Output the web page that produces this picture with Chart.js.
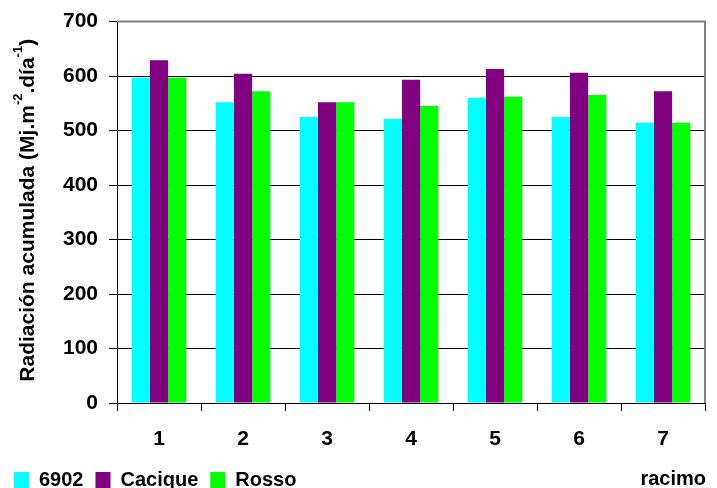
<!DOCTYPE html>
<html>
<head>
<meta charset="utf-8">
<script src="https://cdn.jsdelivr.net/npm/chart.js@4/dist/chart.umd.min.js"></script>
<style>
  body { margin: 0; background: #fff; }
  #wrap { width: 717px; height: 488px; }
</style>
</head>
<body>
<div id="wrap"><canvas id="chart1" width="717" height="488"></canvas></div>
<script>
// racimo (bunch number)
const racimos = ['1', '2', '3', '4', '5', '6', '7'];
// accumulated radiation per variety
const v6902 = [597, 552, 525, 521, 560, 525, 514];
const cacique = [629, 604, 552, 593, 613, 606, 572];
const rosso = [597, 572, 552, 545, 562, 565, 514];
const yTicks = [0, 100, 200, 300, 400, 500, 600, 700];

const fontFam = '"Liberation Sans", Arial, sans-serif';

// y title with superscripts + racimo label + plot frame
const extras = {
  id: 'extras',
  afterDraw(chart) {
    const ctx = chart.ctx;
    const area = chart.chartArea;
    ctx.save();
    // gray frame on top and right
    ctx.strokeStyle = '#808080';
    ctx.lineWidth = 2;
    ctx.beginPath();
    ctx.moveTo(area.left, area.top);
    ctx.lineTo(area.right, area.top);
    ctx.lineTo(area.right, area.bottom);
    ctx.stroke();

    // y axis title
    const parts = [
      ['Radiación acumulada (Mj.m', false],
      ['-2', true],
      ['.día', false],
      ['-1', true],
      [')', false]
    ];
    const big = 'bold 21px ' + fontFam;
    const small = 'bold 13px ' + fontFam;
    let total = 0;
    parts.forEach(p => { ctx.font = p[1] ? small : big; total += ctx.measureText(p[0]).width; });
    ctx.translate(28, (area.top + area.bottom) / 2 - 2);
    ctx.rotate(-Math.PI / 2);
    ctx.fillStyle = '#000';
    ctx.textBaseline = 'middle';
    let x = -total / 2;
    parts.forEach(p => {
      ctx.font = p[1] ? small : big;
      ctx.fillText(p[0], x, p[1] ? -10 : 0);
      x += ctx.measureText(p[0]).width;
    });
    ctx.restore();

    // x axis label, same line as the legend
    ctx.save();
    ctx.font = 'bold 20px ' + fontFam;
    ctx.fillStyle = '#000';
    ctx.textAlign = 'right';
    ctx.textBaseline = 'middle';
    const lg = chart.legend;
    ctx.fillText('racimo', 706, lg.top + lg.height / 2);
    ctx.restore();
  }
};

new Chart(document.getElementById('chart1').getContext('2d'), {
  type: 'bar',
  data: {
    labels: racimos,
    datasets: [
      { label: '6902', data: v6902, backgroundColor: '#00ffff' },
      { label: 'Cacique', data: cacique, backgroundColor: '#800080' },
      { label: 'Rosso', data: rosso, backgroundColor: '#00ff00' }
    ]
  },
  options: {
    responsive: false,
    animation: false,
    categoryPercentage: 0.65,
    barPercentage: 1.0,
    layout: { padding: { left: 2, right: 12, top: 10, bottom: -12 } },
    plugins: {
      tooltip: { enabled: false },
      legend: {
        position: 'bottom',
        align: 'start',
        labels: {
          boxWidth: 15,
          boxHeight: 16,
          padding: 12,
          color: '#000',
          font: { family: fontFam, size: 20, weight: 'bold' }
        }
      }
    },
    scales: {
      x: {
        afterFit(axis) { axis.height = 55; },
        grid: {
          offset: true,
          drawOnChartArea: false,
          tickLength: 8,
          color: '#000'
        },
        border: { color: '#000', width: 1 },
        ticks: {
          color: '#000',
          padding: 16,
          font: { family: fontFam, size: 21, weight: 'bold' }
        }
      },
      y: {
        min: 0,
        max: 700,
        afterBuildTicks(axis) { axis.ticks = yTicks.map(v => ({ value: v })); },
        afterFit(axis) { axis.width = 115; },
        grid: { color: '#000', tickLength: 8 },
        border: { color: '#000', width: 1 },
        ticks: {
          color: '#000',
          padding: 11,
          font: { family: fontFam, size: 21, weight: 'bold', lineHeight: 1 }
        }
      }
    }
  },
  plugins: [extras]
});
</script>
</body>
</html>
